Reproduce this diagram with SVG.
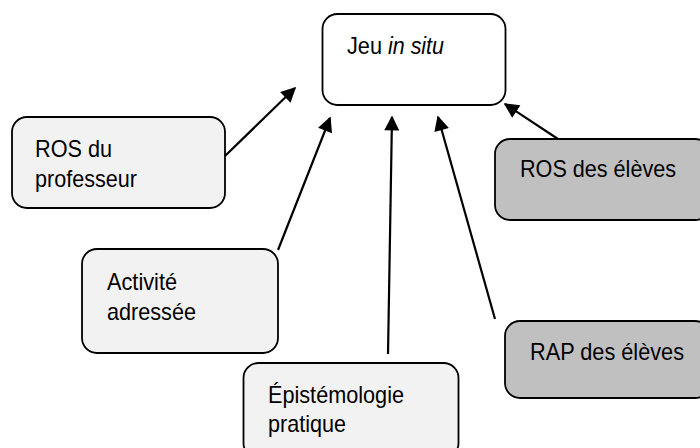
<svg xmlns="http://www.w3.org/2000/svg" width="700" height="448" viewBox="0 0 700 448">
<style>
.box{stroke:#000;stroke-width:1.8}
.light{fill:#f2f2f2}
.dark{fill:#c0c0c0}
.white{fill:#fff}
text{font-family:"Liberation Sans",Arial,sans-serif;font-size:24px;fill:#000}
.conn line{stroke:#000;stroke-width:2.2;marker-end:url(#ah)}
</style>
<defs>
<marker id="ah" viewBox="0 0 10 10" refX="9" refY="5" markerUnits="userSpaceOnUse" markerWidth="17" markerHeight="15" orient="auto">
<path d="M0,0 L10,5 L0,10 z" fill="#000"/>
</marker>
</defs>
<g id="jeu"><rect class="box white" x="322.5" y="14" width="183" height="91" rx="15"/><text x="347" y="54" textLength="35" lengthAdjust="spacingAndGlyphs">Jeu</text><text x="388" y="54" font-style="italic" textLength="56" lengthAdjust="spacingAndGlyphs">in situ</text></g>
<g id="ros-prof"><rect class="box light" x="12" y="117" width="213" height="91" rx="15"/><text x="35" y="157" textLength="77" lengthAdjust="spacingAndGlyphs">ROS du</text><text x="35" y="187" textLength="102" lengthAdjust="spacingAndGlyphs">professeur</text></g>
<g id="ros-eleves"><rect class="box dark" x="495" y="139" width="215" height="81" rx="15"/><text x="520" y="177" textLength="156" lengthAdjust="spacingAndGlyphs">ROS des élèves</text></g>
<g id="activite"><rect class="box light" x="82" y="249" width="196" height="104" rx="15"/><text x="107" y="290" textLength="70" lengthAdjust="spacingAndGlyphs">Activité</text><text x="107" y="320" textLength="89" lengthAdjust="spacingAndGlyphs">adressée</text></g>
<g id="episteme"><rect class="box light" x="243.5" y="363" width="215" height="95" rx="15"/><text x="268" y="403" textLength="136" lengthAdjust="spacingAndGlyphs">Épistémologie</text><text x="268" y="432" textLength="78" lengthAdjust="spacingAndGlyphs">pratique</text></g>
<g id="rap"><rect class="box dark" x="505" y="321" width="205" height="77" rx="15"/><text x="530" y="360" textLength="154" lengthAdjust="spacingAndGlyphs">RAP des élèves</text></g>
<g class="conn">
<line x1="225" y1="156" x2="295" y2="88"/>
<line x1="278" y1="250" x2="330" y2="118"/>
<line x1="388" y1="354" x2="392" y2="117"/>
<line x1="495" y1="319" x2="438" y2="117"/>
<line x1="558" y1="139" x2="505" y2="104"/>
</g>
</svg>
